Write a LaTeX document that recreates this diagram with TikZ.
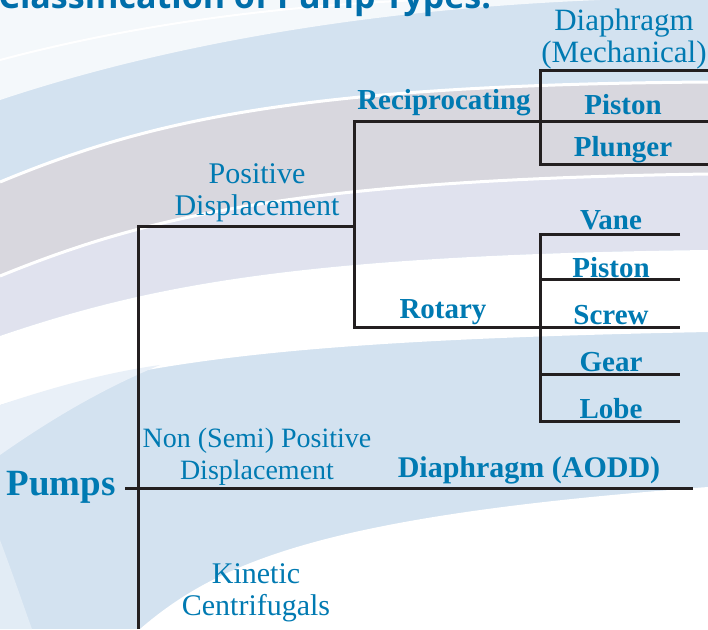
\documentclass[tikz,border=0pt]{standalone}
\usepackage{fontspec}
\usepackage{tikz}
\usetikzlibrary{calc}
\setmainfont{Liberation Serif}
\newfontfamily\titlefont{Open Sans}
\definecolor{pumpblue}{RGB}{0,122,178}
\definecolor{titleblue}{RGB}{0,110,170}
\definecolor{linecol}{RGB}{35,31,32}
\definecolor{bandblue}{RGB}{211,226,240}
\definecolor{bandgrey}{RGB}{216,215,222}
\definecolor{bandlav}{RGB}{224,226,238}

\begin{document}
\begin{tikzpicture}[x=0.5pt,y=-0.5pt]
\tikzstyle{group}=[text=pumpblue,align=center,inner sep=0pt,font=\fontsize{15}{16}\selectfont]
\tikzstyle{leaf}=[text=pumpblue,inner sep=0pt,font=\bfseries\fontsize{14.5}{16}\selectfont]
\tikzstyle{branch}=[draw=linecol,line width=1.5pt]
\tikzstyle{stripe}=[draw=white,line width=1.5pt]
\useasboundingbox (0,0) rectangle (708,629);
\clip (0,0) rectangle (708,629);
% background bands
\fill[bandblue] (0,0) rectangle (708,629);
\fill[white!75!bandblue] (0,0) -- (600,0) .. controls (350,10) and (150,50) .. (0,100) -- cycle;
\fill[bandgrey] (0,182) .. controls (150,120) and (300,85) .. (708,82) -- (708,174) .. controls (300,180) and (150,215) .. (0,276) -- cycle;
\fill[bandlav] (0,276) .. controls (150,215) and (300,180) .. (708,174) -- (708,250) .. controls (300,255) and (150,285) .. (0,336) -- cycle;
\fill[white] (0,336) .. controls (150,285) and (300,255) .. (708,250) -- (708,332) .. controls (300,340) and (150,360) .. (0,405) -- cycle;
\fill[white!50!bandblue] (0,405) .. controls (60,385) and (110,372) .. (160,365) .. controls (100,390) and (50,420) .. (0,455) -- cycle;
\fill[white] (140,629) .. controls (220,560) and (330,515) .. (708,487) -- (708,629) -- cycle;
\fill[white!35!bandblue] (0,540) .. controls (15,580) and (25,610) .. (32,629) -- (0,629) -- cycle;
\draw[stripe] (0,182) .. controls (150,120) and (300,85) .. (708,82);
\draw[stripe] (0,276) .. controls (150,215) and (300,180) .. (708,174);
\draw[stripe,line width=1pt] (0,60) .. controls (150,20) and (300,5) .. (420,0);
% title
\node[anchor=base west,inner sep=0pt,text=titleblue,font=\titlefont\bfseries\fontsize{17}{20}\selectfont] (title) at (-2,8) {Classification of Pump Types:};
% junctions
\coordinate (T_top) at (138,226);
\coordinate (T_bot) at (138,629);
\coordinate (P_end) at (693,488);
\coordinate (S_top) at (354,121);
\coordinate (S_mid) at (354,226);
\coordinate (S_bot) at (354,327);
\coordinate (R_0) at (540,70);
\coordinate (R_1) at (540,121);
\coordinate (R_2) at (540,164);
\coordinate (E_0) at (708,70);
\coordinate (E_1) at (708,121);
\coordinate (E_2) at (708,164);
\coordinate (Q_0) at (540,234);
\coordinate (Q_1) at (540,279);
\coordinate (Q_2) at (540,327);
\coordinate (Q_3) at (540,374);
\coordinate (Q_4) at (540,421);
\coordinate (F_0) at (680,234);
\coordinate (F_1) at (680,279);
\coordinate (F_2) at (680,327);
\coordinate (F_3) at (680,374);
\coordinate (F_4) at (680,421);
% labels
\node[leaf,anchor=east,font=\bfseries\fontsize{18.5}{20}\selectfont] (pumps) at (116,487) {Pumps};
\node[group] (posdisp) at (257,193) {Positive\\Displacement};
\node[group,font=\fontsize{14}{16}\selectfont] (nonpos) at (257,457) {Non (Semi) Positive\\Displacement};
\node[group] (kinetic) at (256,593) {Kinetic\\Centrifugals};
\node[leaf] (recip) at (444,103) {Reciprocating};
\node[leaf] (rotary) at (443,312) {Rotary};
\node[group,font=\fontsize{15.5}{16}\selectfont] (diamech) at (624,39) {Diaphragm\\(Mechanical)};
\node[leaf] (rpiston) at (623,105) {Piston};
\node[leaf] (plunger) at (623,150) {Plunger};
\node[leaf] (vane) at (611,220) {Vane};
\node[leaf] (qpiston) at (611,268) {Piston};
\node[leaf] (screw) at (611,315) {Screw};
\node[leaf] (gear) at (611,362) {Gear};
\node[leaf] (lobe) at (611,409) {Lobe};
\node[leaf,font=\bfseries\fontsize{15}{16}\selectfont] (aodd) at (529,470) {Diaphragm (AODD)};
% tree
\draw[branch] (T_bot) -- (T_top) -- (S_mid);
\draw[branch] ($(pumps.east)+(9,1)$) -- (P_end);
\draw[branch] (R_1) -- (S_top) -- (S_bot) -- (Q_2);
\draw[branch] (E_0) -- (R_0) -- (R_2) -- (E_2);
\draw[branch] (R_1) -- (E_1);
\draw[branch] (F_0) -- (Q_0) -- (Q_4) -- (F_4);
\draw[branch] (Q_1) -- (F_1);
\draw[branch] (Q_2) -- (F_2);
\draw[branch] (Q_3) -- (F_3);
\end{tikzpicture}
\end{document}
